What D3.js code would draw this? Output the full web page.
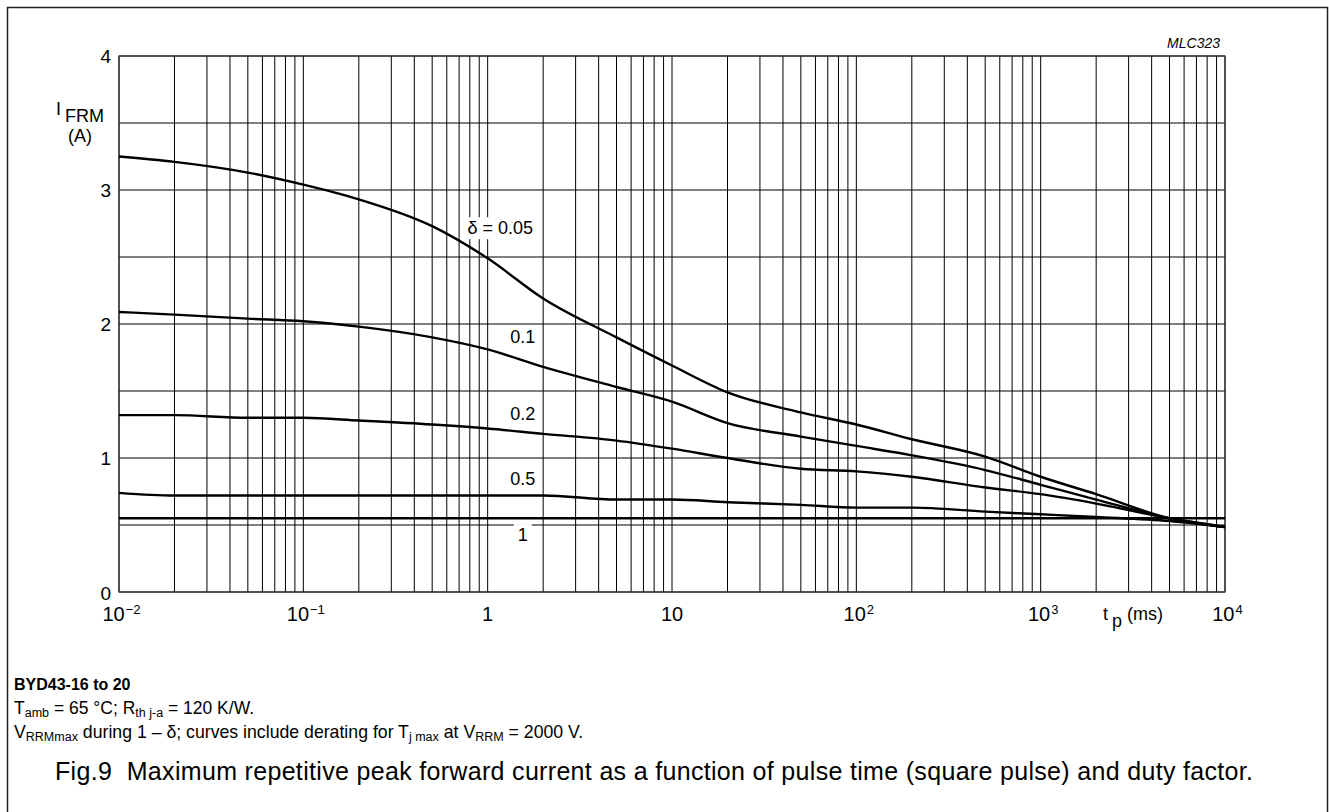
<!DOCTYPE html>
<html>
<head>
<meta charset="utf-8">
<script src="https://cdn.jsdelivr.net/npm/d3@7"></script>
<style>
  html, body { margin: 0; padding: 0; background: #fff; }
  svg { display: block; }
  text { font-family: "Liberation Sans", Arial, Helvetica, sans-serif; fill: #000; white-space: pre; }
</style>
</head>
<body>
<svg id="chart" width="1329" height="812"></svg>
<script>
// ---- data ----
const pulseTimes = [0.01, 0.02, 0.05, 0.1, 0.2, 0.5, 1, 2, 5, 10, 20, 50, 100, 200, 500, 1000, 2000, 5000, 10000];
const duty005 = [3.25, 3.21, 3.13, 3.04, 2.93, 2.73, 2.49, 2.19, 1.90, 1.69, 1.49, 1.34, 1.25, 1.14, 1.01, 0.86, 0.73, 0.55, 0.485];
const duty01  = [2.09, 2.07, 2.04, 2.02, 1.98, 1.90, 1.81, 1.68, 1.53, 1.42, 1.26, 1.16, 1.09, 1.02, 0.91, 0.80, 0.69, 0.55, 0.485];
const duty02  = [1.32, 1.32, 1.30, 1.30, 1.28, 1.25, 1.22, 1.18, 1.13, 1.07, 1.00, 0.92, 0.90, 0.86, 0.78, 0.73, 0.66, 0.55, 0.485];
const duty05  = [0.74, 0.72, 0.72, 0.72, 0.72, 0.72, 0.72, 0.72, 0.69, 0.69, 0.67, 0.65, 0.63, 0.63, 0.60, 0.58, 0.56, 0.53, 0.485];
const duty1Times = [0.01, 10000];
const duty1   = [0.55, 0.55];
const yTickValues = [0, 1, 2, 3, 4];
const yGridValues = [0, 0.5, 1, 1.5, 2, 2.5, 3, 3.5, 4];
const xDecadeExps = [-2, -1, 0, 1, 2, 3, 4];
const curveLabels = [
  {text: "δ = 0.05", t: 1.17, v: 2.67, box: true},
  {text: "0.1", t: 1.55, v: 1.86, box: false},
  {text: "0.2", t: 1.55, v: 1.28, box: false},
  {text: "0.5", t: 1.55, v: 0.80, box: false},
  {text: "1", t: 1.55, v: 0.38, box: true}
];

// ---- layout ----
const svg = d3.select("#chart");
const pL = 119, pR = 1225, pT = 56, pB = 592;
const x = d3.scaleLog().domain([0.01, 10000]).range([pL, pR]);
const y = d3.scaleLinear().domain([0, 4]).range([pB, pT]);

// outer frame
svg.append("rect").attr("x", 7.5).attr("y", 7.5).attr("width", 1320).attr("height", 830)
  .attr("fill", "none").attr("stroke", "#222").attr("stroke-width", 1.5);

// grid
const g = svg.append("g");
const vGrid = [];
for (let k = -2; k <= 3; k++) for (let m = 1; m <= 9; m++) vGrid.push(m * Math.pow(10, k));
vGrid.push(10000);
g.selectAll("line.v").data(vGrid).enter().append("line")
  .attr("x1", d => x(d)).attr("x2", d => x(d))
  .attr("y1", pT).attr("y2", pB)
  .attr("stroke", "#000").attr("stroke-width", 1);
g.selectAll("line.h").data(yGridValues).enter().append("line")
  .attr("x1", pL).attr("x2", pR)
  .attr("y1", d => y(d)).attr("y2", d => y(d))
  .attr("stroke", "#000").attr("stroke-width", 1);
g.append("rect").attr("x", pL).attr("y", pT).attr("width", pR - pL).attr("height", pB - pT)
  .attr("fill", "none").attr("stroke", "#333").attr("stroke-width", 1.2);

// curves
const line = d3.line().x(d => x(d[0])).y(d => y(d[1])).curve(d3.curveMonotoneX);
const series = [duty005, duty01, duty02, duty05];
const cg = svg.append("g");
series.forEach(s => {
  cg.append("path").datum(pulseTimes.map((t, i) => [t, s[i]]))
    .attr("d", line).attr("fill", "none").attr("stroke", "#000").attr("stroke-width", 2.4);
});
cg.append("path").datum(duty1Times.map((t, i) => [t, duty1[i]]))
  .attr("d", line).attr("fill", "none").attr("stroke", "#000").attr("stroke-width", 2.4);

// curve labels
curveLabels.forEach(l => {
  const t = svg.append("text").attr("x", x(l.t)).attr("y", y(l.v))
    .attr("text-anchor", "middle").attr("font-size", 18).text(l.text);
  if (l.box) {
    const bb = t.node().getBBox();
    svg.insert("rect", () => t.node()).attr("x", bb.x - 4).attr("y", bb.y - 1)
      .attr("width", bb.width + 8).attr("height", bb.height + 2).attr("fill", "#fff");
  }
});

// y tick labels
svg.selectAll("text.ytick").data(yTickValues).enter().append("text")
  .attr("x", 111).attr("y", d => y(d) + (d === 0 ? 8 : 7))
  .attr("text-anchor", "end").attr("font-size", 19).text(d => d);

// x tick labels
xDecadeExps.forEach(e => {
  const t = svg.append("text").attr("y", 621).attr("font-size", 20);
  if (e === 0) { t.text("1"); }
  else if (e === 1) { t.text("10"); }
  else {
    t.append("tspan").text("10");
    t.append("tspan").attr("font-size", 13).attr("dy", -7).attr("dx", 1).text(e < 0 ? "−" + (-e) : e);
  }
  const w = t.node().getComputedTextLength();
  t.attr("x", x(Math.pow(10, e)) - w / 2 + (e >= 2 || e < 0 ? 2 : 0));
});

// x axis title
const xt = svg.append("text").attr("x", 1103).attr("y", 620).attr("font-size", 18);
xt.append("tspan").text("t");
xt.append("tspan").attr("dx", 4).attr("dy", 7).text("p");
xt.append("tspan").attr("dx", 5).attr("dy", -7).attr("font-size", 18).text("(ms)");

// y axis title
svg.append("text").attr("x", 56).attr("y", 115).attr("font-size", 18).text("I");
svg.append("text").attr("x", 65).attr("y", 122).attr("font-size", 18).text("FRM");
svg.append("text").attr("x", 80).attr("y", 142).attr("text-anchor", "middle").attr("font-size", 18).text("(A)");

// figure code
svg.append("text").attr("x", 1220).attr("y", 48).attr("text-anchor", "end")
  .attr("font-size", 14).attr("font-style", "italic").text("MLC323");

// notes
svg.append("text").attr("x", 14).attr("y", 690).attr("font-size", 16).attr("font-weight", "bold").text("BYD43-16 to 20");
const n1 = svg.append("text").attr("x", 14).attr("y", 714).attr("font-size", 17.5);
n1.append("tspan").text("T");
n1.append("tspan").attr("font-size", 12.5).attr("dy", 3).text("amb");
n1.append("tspan").attr("dy", -3).text(" = 65 °C; R");
n1.append("tspan").attr("font-size", 12.5).attr("dy", 3).text("th j-a");
n1.append("tspan").attr("dy", -3).text(" = 120 K/W.");
const n2 = svg.append("text").attr("x", 14).attr("y", 738).attr("font-size", 17.7);
n2.append("tspan").text("V");
n2.append("tspan").attr("font-size", 12.5).attr("dy", 3).text("RRMmax");
n2.append("tspan").attr("dy", -3).text(" during 1 – δ; curves include derating for T");
n2.append("tspan").attr("font-size", 12.5).attr("dy", 3).text("j max");
n2.append("tspan").attr("dy", -3).text(" at V");
n2.append("tspan").attr("font-size", 12.5).attr("dy", 3).text("RRM");
n2.append("tspan").attr("dy", -3).text(" = 2000 V.");

// caption
svg.append("text").attr("x", 55).attr("y", 780).attr("font-size", 25)
  .attr("textLength", 1198).attr("lengthAdjust", "spacing")
  .text("Fig.9  Maximum repetitive peak forward current as a function of pulse time (square pulse) and duty factor.");
</script>
</body>
</html>
